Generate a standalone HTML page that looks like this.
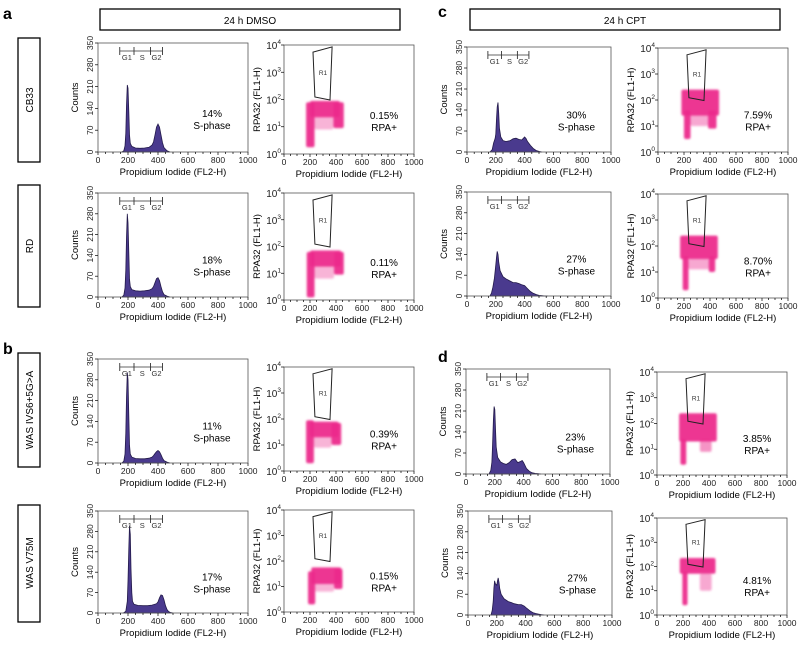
<!DOCTYPE html>
<html><head><meta charset="utf-8"><style>
body{margin:0;background:#fff;}
svg{display:block;font-family:"Liberation Sans",Arial,sans-serif;}
</style></head><body>
<svg id="fig" width="800" height="647" viewBox="0 0 800 647" xmlns="http://www.w3.org/2000/svg">
<defs><filter id="soft" x="-20%" y="-20%" width="140%" height="140%"><feGaussianBlur stdDeviation="1.1"/></filter></defs>
<g font-weight="bold" font-size="16">
<text x="3" y="19">a</text>
<text x="438" y="17">c</text>
<text x="3" y="354">b</text>
<text x="438" y="362">d</text>
</g>
<g><rect x="100" y="9" width="300" height="21" fill="none" stroke="#000" stroke-width="1.3"/><text x="250" y="24" font-size="10" text-anchor="middle">24 h DMSO</text></g>
<g><rect x="470" y="9" width="310" height="21" fill="none" stroke="#000" stroke-width="1.3"/><text x="625" y="24" font-size="10" text-anchor="middle">24 h CPT</text></g>
<g><rect x="18" y="38" width="22" height="124" fill="none" stroke="#000" stroke-width="1.3"/><text transform="translate(33,100) rotate(-90)" font-size="10" text-anchor="middle">CB33</text></g>
<g><rect x="18" y="185" width="22" height="122" fill="none" stroke="#000" stroke-width="1.3"/><text transform="translate(33,246) rotate(-90)" font-size="10" text-anchor="middle">RD</text></g>
<g><rect x="18" y="353" width="22" height="114" fill="none" stroke="#000" stroke-width="1.3"/><text transform="translate(33,410) rotate(-90)" font-size="10" text-anchor="middle">WAS IVS6+5G&gt;A</text></g>
<g><rect x="18" y="505" width="22" height="117" fill="none" stroke="#000" stroke-width="1.3"/><text transform="translate(33,563) rotate(-90)" font-size="10" text-anchor="middle">WAS V75M</text></g>
<g id="plots"></g>
</svg>
<script>
// ---- data ----
const panelIds = ['a1','a2','b1','b2','c1','c2','d1','d2'];
const sPhase = ['14%','18%','11%','17%','30%','27%','23%','27%'];
const rpaPos = ['0.15%','0.11%','0.39%','0.15%','7.59%','8.70%','3.85%','4.81%'];
const histX = {
 a1:[160,172,180,185,190,195,200,205,210,215,225,250,280,310,340,360,370,380,390,400,410,420,430,440,460,480],
 a2:[160,172,180,185,190,195,200,205,210,215,225,250,280,310,340,360,370,380,390,400,410,420,430,440,460,480],
 b1:[160,172,180,185,190,195,200,205,210,215,225,250,280,310,340,360,370,380,390,400,410,420,430,440,460,480],
 b2:[170,185,195,200,205,210,215,220,225,230,240,265,300,330,360,390,400,410,420,430,440,450,460,470,480,500],
 c1:[160,175,185,195,200,205,210,215,220,225,235,250,270,300,320,340,360,380,400,410,420,440,460,480,500,520],
 c2:[160,170,180,190,200,205,210,215,220,230,250,270,300,320,340,360,380,400,420,440,460,480,500,520,540,560],
 d1:[160,172,180,185,190,195,200,205,210,220,240,260,280,300,320,340,360,380,390,400,420,440,460,480,500,520],
 d2:[160,168,175,180,185,190,200,205,210,215,220,230,250,280,300,320,350,370,390,410,430,450,470,490,510,530]
};
const histY = {
 a1:[0,4,20,60,150,215,205,130,55,28,18,13,12,13,15,22,32,55,80,90,80,55,30,14,4,0],
 a2:[0,6,30,90,200,280,250,150,60,35,25,21,20,21,23,28,35,48,62,65,55,35,18,8,3,0],
 b1:[0,6,30,100,220,305,280,160,60,30,20,15,14,14,16,20,25,32,38,42,38,28,16,8,3,0],
 b2:[0,6,40,110,220,300,270,150,70,40,30,26,25,25,27,32,38,52,62,60,45,25,12,5,2,0],
 c1:[0,8,30,45,60,110,150,165,130,80,50,38,35,38,44,46,42,40,50,45,35,22,12,5,2,0],
 c2:[0,10,30,60,105,130,150,140,115,85,65,58,50,45,45,42,38,35,25,15,9,5,2,1,0,0],
 d1:[0,12,40,100,180,225,215,150,90,55,40,35,32,38,48,50,38,42,45,38,18,9,4,2,1,0],
 d2:[0,15,45,90,115,105,100,115,125,110,90,70,55,45,42,38,35,35,30,22,14,8,5,3,1,0]
};
// scatter clouds as density blocks: [x0, x1, log10 y0, log10 y1, opacity]
const cloudBlocks = {
 a1:[[170,235,0.25,1.9,0.95],[200,430,1.35,1.95,0.95],[380,460,0.95,1.9,0.95],[235,380,0.9,1.4,0.35]],
 a2:[[175,235,0.1,1.8,0.95],[200,440,1.25,1.85,0.95],[385,460,0.95,1.8,0.95],[235,385,0.8,1.3,0.35]],
 b1:[[170,230,0.3,1.95,0.95],[200,420,1.3,1.9,0.95],[365,440,1.0,1.85,0.95],[230,365,0.9,1.35,0.35]],
 b2:[[185,240,0.3,1.6,0.95],[210,440,1.1,1.75,0.95],[385,450,0.9,1.7,0.95],[240,385,0.8,1.15,0.35]],
 c1:[[180,470,1.4,2.4,0.95],[200,250,0.5,1.6,0.95],[385,450,0.9,1.6,0.95],[250,385,1.0,1.45,0.4]],
 c2:[[170,460,1.5,2.4,0.95],[190,235,0.3,1.6,0.95],[390,440,1.0,1.6,0.95],[235,390,1.1,1.5,0.4]],
 d1:[[170,460,1.3,2.4,0.95],[180,225,0.4,1.4,0.95],[330,420,0.9,1.4,0.5]],
 d2:[[175,450,1.7,2.35,0.95],[195,235,0.4,1.8,0.95],[330,420,1.0,1.7,0.4]]
};
const gateX = [223,370,354,238];
const gateLogY = [3.74,3.93,1.98,2.09];
const histTicks = [0,70,140,210,280,350];
const xTicks = [0,200,400,600,800,1000];
const logTicks = [0,1,2,3,4];
const gatesX = [145,240,350,430];
// layout (positions only)
const layout = {
 a1:{hx:98,hw:150,ht:43,hb:152,sx:284,sw:130,st:45,sb:154},
 a2:{hx:98,hw:150,ht:193,hb:297,sx:284,sw:130,st:193,sb:300},
 b1:{hx:98,hw:150,ht:359,hb:463,sx:284,sw:130,st:367,sb:471},
 b2:{hx:98,hw:150,ht:511,hb:613,sx:284,sw:130,st:510,sb:612},
 c1:{hx:467,hw:144,ht:47,hb:152,sx:658,sw:130,st:48,sb:152},
 c2:{hx:467,hw:144,ht:192,hb:296,sx:658,sw:130,st:194,sb:298},
 d1:{hx:466,hw:144,ht:369,hb:474,sx:657,sw:130,st:372,sb:475},
 d2:{hx:468,hw:144,ht:511,hb:615,sx:657,sw:130,st:518,sb:615}
};
const NS='http://www.w3.org/2000/svg';
const root=document.getElementById('plots');
function mk(tag,attrs,parent,txt){const e=document.createElementNS(NS,tag);for(const k in attrs)e.setAttribute(k,attrs[k]);if(txt!==undefined)e.textContent=txt;parent.appendChild(e);return e;}
function xAxis(g,x0,w,bottom,sx){
  for(let v=0;v<=1000;v+=50){const X=sx(v);mk('line',{x1:X,x2:X,y1:bottom,y2:bottom+(v%200===0?3:2),stroke:'#000','stroke-width':0.7},g);}
  xTicks.forEach(v=>{const t=mk('text',{x:sx(v),y:bottom+11,'font-size':8.5,'text-anchor':'middle',fill:'#222'},g,String(v));
    
    });
  const t=mk('text',{x:x0+w/2,y:bottom+23,'font-size':9.5,'text-anchor':'middle'},g,'Propidium Iodide (FL2-H)');
  
  
}
panelIds.forEach((id,i)=>{
  const L=layout[id];
  // ---------- histogram ----------
  const hg=mk('g',{},root);
  
  
  const sx=v=>L.hx+v/1000*L.hw;
  const sy=v=>L.hb-v/350*(L.hb-L.ht);
  const xs=histX[id], ys=histY[id];
  let d='M'+sx(xs[0])+','+L.hb;
  xs.forEach((x,k)=>{d+=' L'+sx(x).toFixed(1)+','+sy(ys[k]).toFixed(1);});
  d+=' L'+sx(xs[xs.length-1])+','+L.hb+' Z';
  const p=mk('path',{d:d,fill:'#4a3a8e',stroke:'#231a4a','stroke-width':0.8},hg);
  
  
  mk('rect',{x:L.hx,y:L.ht,width:L.hw,height:L.hb-L.ht,fill:'none',stroke:'#555','stroke-width':0.8},hg);
  histTicks.forEach(v=>{const Y=sy(v);mk('line',{x1:L.hx-3,x2:L.hx,y1:Y,y2:Y,stroke:'#000','stroke-width':0.7},hg);
    const t=mk('text',{transform:'translate('+(L.hx-5)+','+Y+') rotate(-90)','font-size':8.5,'text-anchor':'middle',fill:'#222'},hg,String(v));
    
    });
  const ct=mk('text',{transform:'translate('+(L.hx-20)+','+((L.ht+L.hb)/2)+') rotate(-90)','font-size':9.5,'text-anchor':'middle'},hg,'Counts');
  
  
  xAxis(hg,L.hx,L.hw,L.hb,sx);
  // gate markers
  const gy=L.ht+8;
  mk('line',{x1:sx(gatesX[0]),x2:sx(gatesX[3]),y1:gy,y2:gy,stroke:'#333','stroke-width':0.7},hg);
  gatesX.forEach(v=>mk('line',{x1:sx(v),x2:sx(v),y1:gy-4,y2:gy+4,stroke:'#333','stroke-width':0.9},hg));
  [['G1',(gatesX[0]+gatesX[1])/2],['S',(gatesX[1]+gatesX[2])/2],['G2',(gatesX[2]+gatesX[3])/2]].forEach(a=>{
    const t=mk('text',{x:sx(a[1]),y:gy+9,'font-size':7.5,'text-anchor':'middle',fill:'#333'},hg,a[0]);
    
    });
  const hh=L.hb-L.ht;
  const s1=mk('text',{x:L.hx+L.hw*0.76,y:L.ht+hh*0.68,'font-size':10,'text-anchor':'middle'},hg,sPhase[i]);
  
  
  mk('text',{x:L.hx+L.hw*0.76,y:L.ht+hh*0.68+12,'font-size':10,'text-anchor':'middle'},hg,'S-phase');
  // ---------- scatter ----------
  const sg=mk('g',{},root);
  
  
  const qx=v=>L.sx+v/1000*L.sw;
  const qy=l=>L.sb-l/4*(L.sb-L.st);
  const cg=mk('g',{filter:'url(#soft)'},sg);
  cloudBlocks[id].forEach(b=>{
    const r=mk('rect',{x:qx(b[0]),y:qy(b[3]),width:qx(b[1])-qx(b[0]),height:qy(b[2])-qy(b[3]),rx:2,fill:'#ec2a8c','fill-opacity':b[4]},cg);
    
    
  });
  mk('rect',{x:L.sx,y:L.st,width:L.sw,height:L.sb-L.st,fill:'none',stroke:'#555','stroke-width':0.8},sg);
  let gd='M';
  gateX.forEach((v,k)=>{gd+=(k?' L':'')+qx(v).toFixed(1)+','+qy(gateLogY[k]).toFixed(1);});
  const gp=mk('path',{d:gd+' Z',fill:'none',stroke:'#222','stroke-width':1},sg);
  
  
  mk('text',{x:qx(300),y:qy(2.9),'font-size':6.5,'text-anchor':'middle',fill:'#333'},sg,'R1');
  logTicks.forEach(l=>{const Y=qy(l);mk('line',{x1:L.sx-3,x2:L.sx,y1:Y,y2:Y,stroke:'#000','stroke-width':0.7},sg);
    const t=mk('text',{x:L.sx-3,y:Y+4,'font-size':10,'text-anchor':'end',fill:'#222'},sg);
    
    
    mk('tspan',{},t,'10');mk('tspan',{dy:-5,'font-size':6.5},t,String(l));});
  const yt=mk('text',{transform:'translate('+(L.sx-24)+','+((L.st+L.sb)/2)+') rotate(-90)','font-size':9.5,'text-anchor':'middle'},sg,'RPA32 (FL1-H)');
  
  
  xAxis(sg,L.sx,L.sw,L.sb,qx);
  const sh=L.sb-L.st;
  const r1=mk('text',{x:L.sx+L.sw*0.77,y:L.st+sh*0.68,'font-size':10,'text-anchor':'middle'},sg,rpaPos[i]);
  
  
  mk('text',{x:L.sx+L.sw*0.77,y:L.st+sh*0.68+12,'font-size':10,'text-anchor':'middle'},sg,'RPA+');
});
</script>
</body></html>
